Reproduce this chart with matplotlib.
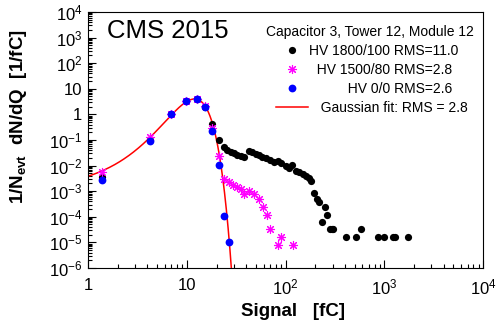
import numpy as np
import matplotlib
matplotlib.use("Agg")
import matplotlib.pyplot as plt
from matplotlib.ticker import LogLocator, FuncFormatter, NullFormatter

plt.rcParams['font.family'] = ['Liberation Sans', 'DejaVu Sans']
plt.rcParams['mathtext.fontset'] = 'custom'
plt.rcParams['mathtext.rm'] = 'Liberation Sans'
plt.rcParams['mathtext.it'] = 'Liberation Sans:italic'
plt.rcParams['mathtext.bf'] = 'Liberation Sans:bold'

# HV 1800/100 (black)
q_hv1800 = [1.4, 4.2, 7.0, 9.8, 12.6, 15.4, 18.2, 21.0, 23.8, 25.7, 27.9, 30.1, 32.5,
            35.2, 38.0, 42.4, 46.1, 49.9, 53.9, 58.2, 63.5, 69.7, 76.5, 84.0, 90.7,
            100, 109, 117, 127, 138, 150, 162, 172, 181, 194, 207, 218, 236, 251,
            265, 282, 294, 305, 410, 518, 582, 859, 990, 1220, 1285, 1753]
n_hv1800 = [3.7e-3, 0.1, 1.0, 3.2, 4.0, 2.0, 0.41, 0.1, 0.052, 0.041, 0.035, 0.030, 0.0267,
            0.0244, 0.0223, 0.038, 0.033, 0.0284, 0.0252, 0.0223, 0.0193, 0.0166, 0.0142, 0.0156, 0.013,
            0.0095, 0.0080, 0.0105, 6.3e-3, 5.4e-3, 4.6e-3, 3.9e-3, 3.3e-3, 2.4e-3, 8.3e-4, 5.0e-4, 3.9e-4, 6.4e-5, 2.5e-4,
            1.17e-4, 3.2e-5, 3.2e-5, 3.2e-5, 1.58e-5, 1.58e-5, 3.2e-5, 1.58e-5, 1.58e-5, 1.58e-5, 1.58e-5, 1.58e-5]

# HV 1500/80 (magenta)
q_hv1500 = [1.4, 4.2, 7.0, 9.8, 12.6, 15.4, 18.2, 21.0, 23.8, 26.6, 29.4, 32.2, 35.0,
            37.8, 42.4, 47.6, 53.5, 58.8, 65.0, 70.2, 83.4, 90.7, 118]
n_hv1500 = [5.8e-3, 0.127, 1.05, 3.3, 4.0, 2.1, 0.3, 0.024, 3.0e-3, 2.2e-3, 1.75e-3, 1.5e-3, 1.19e-3,
            7.8e-4, 1.05e-3, 7.8e-4, 5.1e-4, 2.5e-4, 1.17e-4, 3.3e-5, 7.9e-6, 1.58e-5, 7.9e-6]

# HV 0/0 (blue)
q_hv0 = [1.4, 4.2, 7.0, 9.8, 12.6, 15.4, 18.2, 21.0, 23.8, 26.6]
n_hv0 = [2.7e-3, 0.091, 1.0, 3.25, 4.0, 2.0, 0.23, 0.0105, 1.07e-4, 1.0e-5]

# gaussian fit parameters
fit_amp = 4.0
fit_mean = 12.0
fit_sigma = 2.95
fit_range = (1.0, 30.0)

fig = plt.figure(figsize=(4.99, 3.28), dpi=100)
ax = fig.add_axes([0.1764, 0.183, 0.7916, 0.7805])

qf = np.linspace(fit_range[0], fit_range[1], 400)
ax.plot(qf, fit_amp * np.exp(-0.5 * ((qf - fit_mean) / fit_sigma) ** 2),
        color="#ff0000", lw=1.1, zorder=2, label="   Gaussian fit: RMS = 2.8")

ax.plot(q_hv1800, n_hv1800, "o", color="black", ms=5.2, mec="none", zorder=3,
        label="HV 1800/100 RMS=11.0")
ax.plot(q_hv1500, n_hv1500, ls="none", marker=(8, 2, 0), color="#ff00ff", ms=6.5,
        mew=0.8, zorder=4, label="  HV 1500/80 RMS=2.8")
ax.plot(q_hv0, n_hv0, "o", color="#0000ff", ms=5.6, mec="none", zorder=5,
        label="          HV 0/0 RMS=2.6")

ax.set_xscale("log")
ax.set_yscale("log")
ax.set_xlim(1, 1e4)
ax.set_ylim(1e-6, 1e4)


def root_fmt(v, pos):
    e = int(round(np.log10(v)))
    if e == 0:
        return "1"
    if e == 1:
        return "10"
    return r"$10^{%d}$" % e


ax.xaxis.set_major_locator(LogLocator(base=10, numticks=20))
ax.yaxis.set_major_locator(LogLocator(base=10, numticks=20))
ax.xaxis.set_minor_locator(LogLocator(base=10, subs=np.arange(2, 10), numticks=20))
ax.yaxis.set_minor_locator(LogLocator(base=10, subs=np.arange(2, 10), numticks=20))
ax.xaxis.set_major_formatter(FuncFormatter(root_fmt))
ax.yaxis.set_major_formatter(FuncFormatter(root_fmt))
ax.xaxis.set_minor_formatter(NullFormatter())
ax.yaxis.set_minor_formatter(NullFormatter())
ax.tick_params(which="both", direction="in", top=False, right=False, labelsize=12)
ax.tick_params(which="major", length=6, width=0.8)
ax.tick_params(which="minor", length=3, width=0.8)
ax.tick_params(axis="x", pad=7)
ax.tick_params(axis="y", pad=4)

ax.set_xlabel("Signal   [fC]", fontsize=13.5, fontweight="bold")
ax.xaxis.set_label_coords(0.52, -0.135)
ax.set_ylabel(r"1/N$_{\mathbf{evt}}$  dN/dQ  [1/fC]", fontsize=13.5, fontweight="bold")
ax.yaxis.set_label_coords(-0.15, 0.59)

ax.text(0.047, 0.927, "CMS 2015", transform=ax.transAxes, fontsize=18.5,
        ha="left", va="center")
ax.text(0.977, 0.922, "Capacitor 3, Tower 12, Module 12", transform=ax.transAxes,
        fontsize=10, ha="right", va="center")

handles, labels = ax.get_legend_handles_labels()
order = [1, 2, 3, 0]
ax.legend([handles[i] for i in order], [labels[i] for i in order],
          loc="upper left", bbox_to_anchor=(0.476, 0.875), frameon=False,
          fontsize=10, borderpad=0, borderaxespad=0, handlelength=2.3,
          handletextpad=0.1, labelspacing=0.36, numpoints=1)

fig.savefig("out.png", dpi=100)
